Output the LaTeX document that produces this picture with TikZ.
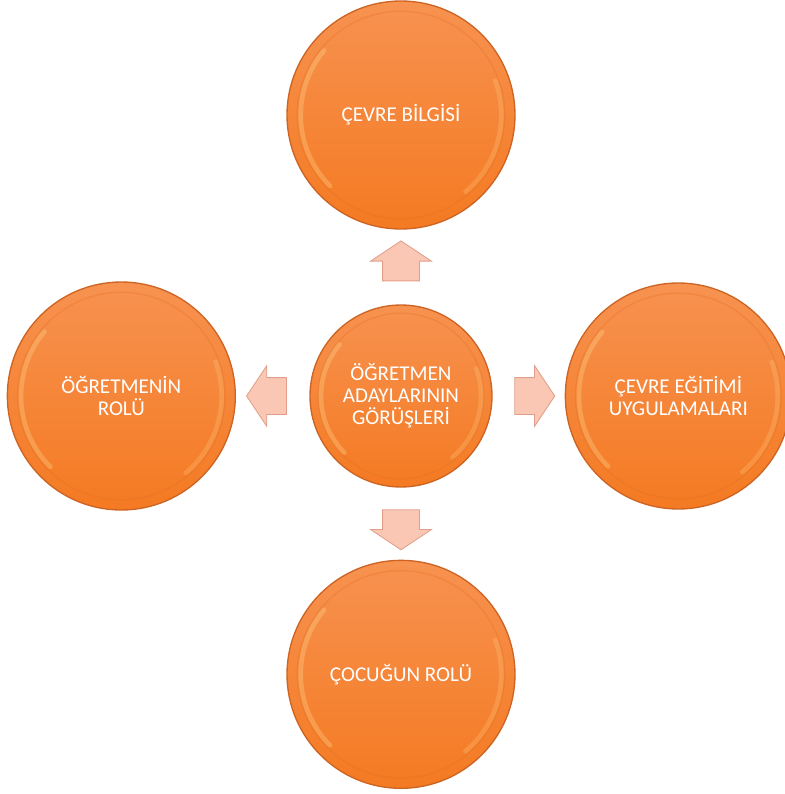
\documentclass[tikz,border=0pt]{standalone}
\usepackage{fontspec}
\setmainfont{Carlito}
\usetikzlibrary{positioning, calc, shapes.arrows}
\definecolor{Corange}{RGB}{244,122,34}
\definecolor{Clight}{RGB}{247,146,80}
\definecolor{Cedge}{RGB}{205,100,36}
\definecolor{Crim}{RGB}{255,222,150}
\definecolor{Carrow}{RGB}{249,199,180}
\definecolor{Carrowline}{RGB}{226,158,138}
\tikzset{
  glow/.style={Crim, line width=3.5pt, opacity=0.3, line cap=round},
  bubble/.style={circle, inner sep=0pt, minimum size=#1, draw=Cedge,
    line width=1pt, top color=Clight, bottom color=Corange,
    text=white, align=center, font=\fontsize{15.8}{16.6}\selectfont,
    path picture={
      \draw[Cedge!50!Corange, line width=1pt, opacity=0.3]
        (path picture bounding box.center) circle[radius=0.455*#1];
      \draw[glow]
        ($(path picture bounding box.center)+(140:0.44*#1)$)
        arc[start angle=140, end angle=225, radius=0.44*#1];
      \draw[glow, opacity=0.22]
        ($(path picture bounding box.center)+(-50:0.44*#1)$)
        arc[start angle=-50, end angle=20, radius=0.44*#1];
    }},
  blockarr/.style={single arrow, draw=Carrowline, fill=Carrow, line width=0.6pt,
    inner xsep=0pt, inner ysep=13.5pt, minimum height=30pt,
    single arrow head extend=9pt, single arrow tip angle=112.6,
    rotate=#1},
}

\begin{document}
\begin{tikzpicture}[x=0.75pt, y=-0.75pt, node distance=55pt]

\useasboundingbox (0,0) rectangle (785,794);

%% hub and the four topics
\node[bubble=136.5pt] (gorus) at (401,396)
  {ÖĞRETMEN\\ADAYLARININ\\GÖRÜŞLERİ};

\node[bubble=171pt, above=56pt of gorus] (bilgi) {ÇEVRE BİLGİSİ};
\node[bubble=171pt, left=55pt of gorus] (ogretmen) {ÖĞRETMENİN\\ROLÜ};
\node[bubble=169.5pt, right=54pt of gorus] (uygulama) {ÇEVRE EĞİTİMİ\\UYGULAMALARI};
\node[bubble=171pt, below=54pt of gorus] (cocuk) {ÇOCUĞUN ROLÜ};

%% block arrows, half way between hub and topic
\node[blockarr=90]  (toBilgi)    at ($(gorus.north)!0.5!(bilgi.south)$) {};
\node[blockarr=180] (toOgretmen) at ($(gorus.west)!0.5!(ogretmen.east)$) {};
\node[blockarr=0]   (toUygulama) at ($(gorus.east)!0.5!(uygulama.west)$) {};
\node[blockarr=270] (toCocuk)    at ($(gorus.south)!0.5!(cocuk.north)$) {};

\end{tikzpicture}
\end{document}
